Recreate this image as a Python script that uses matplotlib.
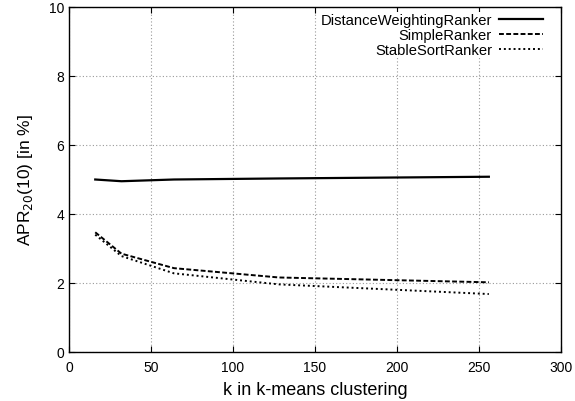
import matplotlib
matplotlib.use("Agg")
import matplotlib.pyplot as plt

plt.rcParams["font.family"] = ["Liberation Sans", "DejaVu Sans"]

k_values = [16, 32, 64, 128, 256]
distance_weighting = [5.00, 4.95, 5.00, 5.03, 5.08]
simple_ranker = [3.47, 2.85, 2.43, 2.16, 2.02]
stable_sort = [3.40, 2.78, 2.28, 1.96, 1.68]

fig = plt.figure(figsize=(5.75, 4.02), dpi=100)
ax = fig.add_axes([69 / 575, 49 / 402, 492 / 575, 345 / 402])

ax.plot(k_values, distance_weighting, color="black", linestyle="-", linewidth=1.6,
        label="DistanceWeightingRanker")
ax.plot(k_values, simple_ranker, color="black", linestyle=(0, (2.5, 1.2)), linewidth=1.4,
        label="SimpleRanker")
ax.plot(k_values, stable_sort, color="black", linestyle=(0, (1, 1.5)), linewidth=1.4,
        label="StableSortRanker")

ax.set_xlim(0, 300)
ax.set_ylim(0, 10)
ax.set_xticks(range(0, 301, 50))
ax.set_yticks(range(0, 11, 2))
ax.tick_params(direction="in", top=True, right=True, labelsize=10, length=4)
ax.tick_params(axis="x", pad=6)
ax.grid(True, color="#999999", linestyle=(0, (1, 2)), linewidth=0.8)
for s in ax.spines.values():
    s.set_linewidth(1.0)

ax.set_xlabel("k in k-means clustering", fontsize=13, labelpad=4.5)
ax.set_ylabel("APR$_{20}$(10) [in %]", fontsize=12.5, labelpad=10)

leg = ax.legend(loc="upper right", bbox_to_anchor=(1 - 17 / 492, 1 - 5 / 345),
                frameon=True, markerfirst=False, fontsize=10.6,
                handlelength=2.95, labelspacing=0.05, borderaxespad=0,
                handletextpad=0.48, borderpad=0.1, fancybox=False)
leg.get_frame().set_edgecolor("none")
leg.get_frame().set_facecolor("white")
leg.get_frame().set_alpha(1.0)

fig.savefig("out.png", dpi=100)
